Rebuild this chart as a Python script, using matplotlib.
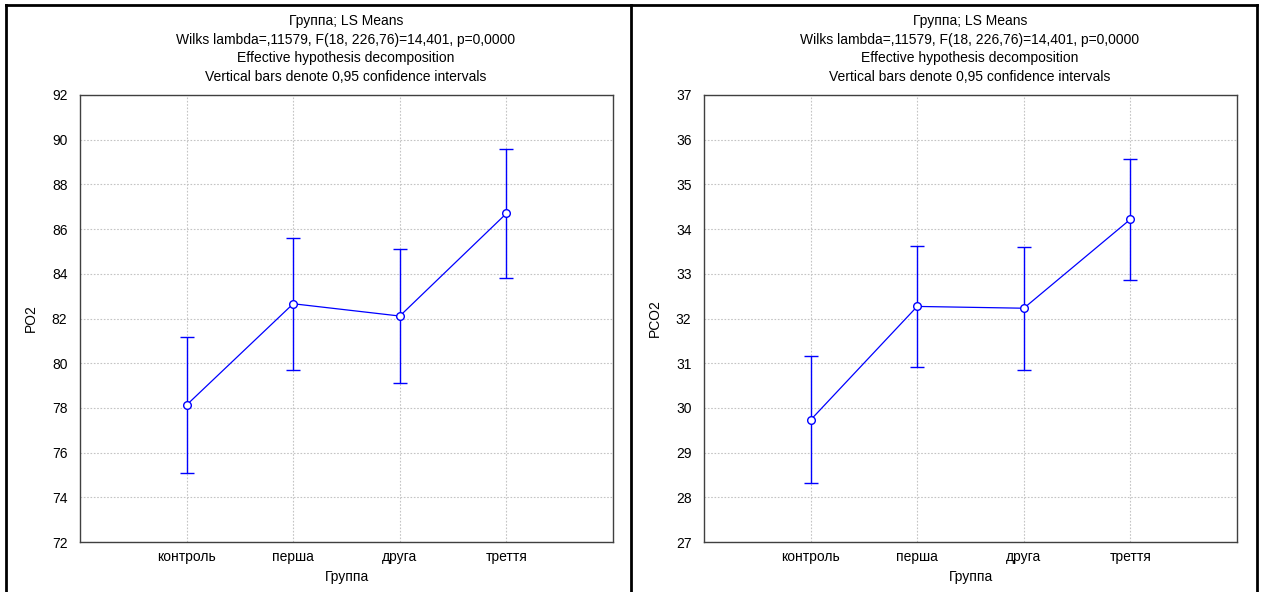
import matplotlib
matplotlib.use("Agg")
import matplotlib.pyplot as plt
from matplotlib.lines import Line2D

plt.rcParams['font.family'] = ['Liberation Sans', 'DejaVu Sans']

categories = ["контроль", "перша", "друга", "треття"]
po2_mean = [78.13, 82.66, 82.11, 86.70]
po2_half = [3.06, 2.95, 3.00, 2.90]
pco2_mean = [29.73, 32.27, 32.23, 34.22]
pco2_half = [1.42, 1.35, 1.38, 1.35]

po2_ticks = [72, 74, 76, 78, 80, 82, 84, 86, 88, 90, 92]
pco2_ticks = [27, 28, 29, 30, 31, 32, 33, 34, 35, 36, 37]

title_lines = ["Группа; LS Means",
               "Wilks lambda=,11579, F(18, 226,76)=14,401, p=0,0000",
               "Effective hypothesis decomposition",
               "Vertical bars denote 0,95 confidence intervals"]
xlabel = "Группа"

W, H = 1261, 592
fig = plt.figure(figsize=(W / 100, H / 100), dpi=100)

def ax_rect(x0, y0, x1, y1):
    return [x0 / W, 1 - y1 / H, (x1 - x0) / W, (y1 - y0) / H]

panels = [
    (ax_rect(80, 95, 613, 542), po2_mean, po2_half, po2_ticks, "PO2", 346),
    (ax_rect(704, 95, 1237, 542), pco2_mean, pco2_half, pco2_ticks, "PCO2", 970),
]

for rect, means, halves, ticks, ylab, cx in panels:
    ax = fig.add_axes(rect)
    x = list(range(len(categories)))
    ax.errorbar(x, means, yerr=halves, fmt='none', ecolor='#0000ff',
                elinewidth=1.0, capsize=5, capthick=1.0, zorder=3)
    ax.plot(x, means, color='#0000ff', lw=0.9, marker='o', ms=5.5,
            mfc='white', mec='#0000ff', mew=1.0, zorder=4)
    ax.set_xlim(-1, 4)
    ax.set_ylim(ticks[0], ticks[-1])
    ax.set_xticks(x)
    ax.set_xticklabels(categories, fontsize=10)
    ax.set_yticks(ticks)
    ax.set_yticklabels([str(t) for t in ticks], fontsize=10)
    ax.tick_params(length=0, pad=9)
    ax.tick_params(axis='x', pad=6)
    ax.grid(True, color='#c4c4c4', linestyle=(0, (1.5, 1.5)), linewidth=0.8)
    ax.set_axisbelow(True)
    for s in ax.spines.values():
        s.set_color('#404040')
        s.set_linewidth(1.0)
    ax.set_ylabel(ylab, fontsize=10, labelpad=10)
    ax.set_xlabel(xlabel, fontsize=10, labelpad=4)
    for i, line in enumerate(title_lines):
        fig.text(cx / W, 1 - (21 + 18.7 * i) / H, line, ha='center',
                 va='center', fontsize=10)

# panel frames
for xpix in [6, 631, 1257]:
    fig.add_artist(Line2D([xpix / W, xpix / W], [0, 1 - 5 / H],
                          color='black', lw=2, transform=fig.transFigure))
fig.add_artist(Line2D([6 / W, 1257 / W], [1 - 5 / H, 1 - 5 / H],
                      color='black', lw=2, transform=fig.transFigure))

fig.savefig("out.png", dpi=100, facecolor='white')
